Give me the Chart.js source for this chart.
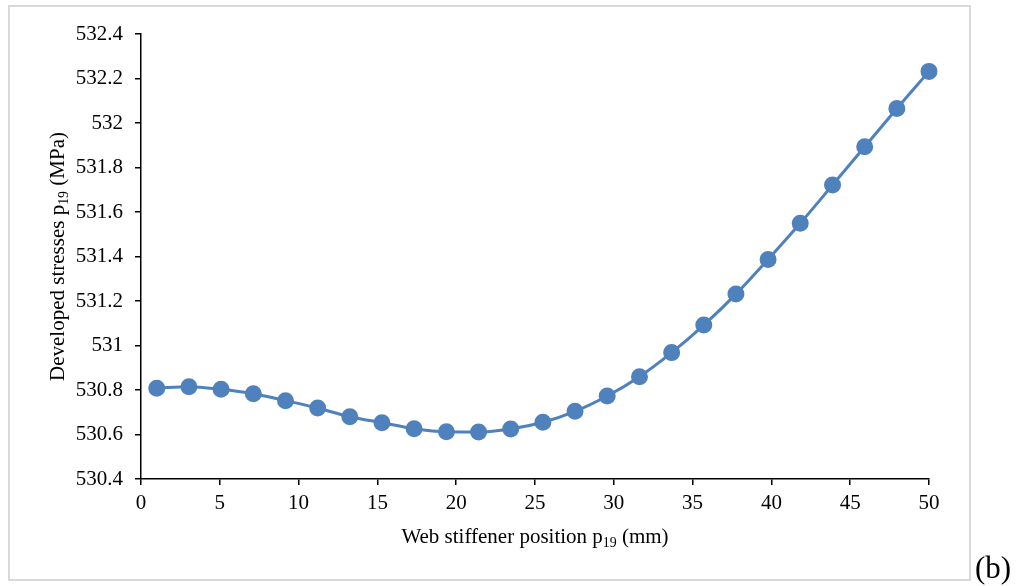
<!DOCTYPE html>
<html>
<head>
<meta charset="utf-8">
<script src="https://cdn.jsdelivr.net/npm/chart.js@4"></script>
<style>
  html, body { margin: 0; padding: 0; background: #fff; }
  #wrap { position: relative; width: 1018px; height: 586px; }
</style>
</head>
<body>
<div id="wrap"><canvas id="chart-stress" width="1018" height="586"></canvas></div>
<script>
// web stiffener position (mm) and developed stress (MPa)
var positions = [1, 3.04, 5.08, 7.13, 9.17, 11.21, 13.25, 15.29, 17.33, 19.38, 21.42, 23.46, 25.5,
    27.54, 29.58, 31.63, 33.67, 35.71, 37.75, 39.79, 41.83, 43.88, 45.92, 47.96, 50];
var stresses = [530.808, 530.815, 530.803, 530.783, 530.752, 530.719, 530.680, 530.653, 530.626,
    530.612, 530.611, 530.625, 530.655, 530.704, 530.773, 530.860, 530.968, 531.092, 531.231,
    531.387, 531.549, 531.721, 531.893, 532.065, 532.232];
var xTicks = { min: 0, max: 50, step: 5 };
var yTicks = { min: 530.4, max: 532.4, step: 0.2 };

var serif = '"Liberation Serif", "Times New Roman", serif';

var points = positions.map(function (x, i) { return { x: x, y: stresses[i] }; });

// text with a subscript part: [[text, isSub], ...]
function drawRich(ctx, parts, size) {
    var total = 0;
    parts.forEach(function (p) {
        ctx.font = (p[1] ? size * 0.66 : size) + 'px ' + serif;
        total += ctx.measureText(p[0]).width;
    });
    var x = -total / 2;
    parts.forEach(function (p) {
        ctx.font = (p[1] ? size * 0.66 : size) + 'px ' + serif;
        ctx.fillText(p[0], x, p[1] ? size * 0.2 : 0);
        x += ctx.measureText(p[0]).width;
    });
}

var decor = {
    id: 'decor',
    beforeDraw: function (chart) {
        var ctx = chart.ctx;
        ctx.save();
        ctx.fillStyle = '#fff';
        ctx.fillRect(0, 0, chart.width, chart.height);
        ctx.strokeStyle = '#d9d9d9';
        ctx.lineWidth = 2;
        ctx.strokeRect(9, 6, 961, 574);
        ctx.restore();
    },
    afterDraw: function (chart) {
        var ctx = chart.ctx;
        var area = chart.chartArea;
        ctx.save();
        ctx.fillStyle = '#000';
        ctx.textBaseline = 'alphabetic';
        ctx.textAlign = 'left';

        // x axis title
        ctx.save();
        ctx.translate((area.left + area.right) / 2, 543);
        drawRich(ctx, [['Web stiffener position p', false], ['19', true], [' (mm)', false]], 21);
        ctx.restore();

        // y axis title
        ctx.save();
        ctx.translate(64, (area.top + area.bottom) / 2);
        ctx.rotate(-Math.PI / 2);
        drawRich(ctx, [['Developed stresses p', false], ['19', true], [' (MPa)', false]], 21);
        ctx.restore();

        ctx.font = '31px ' + serif;
        ctx.fillText('(b)', 975, 578);
        ctx.restore();
    }
};

var ctx = document.getElementById('chart-stress').getContext('2d');
var stressChart = new Chart(ctx, {
    type: 'scatter',
    data: {
        datasets: [{
            data: points,
            showLine: true,
            clip: false,
            borderColor: '#4f81bd',
            backgroundColor: '#4f81bd',
            borderWidth: 3,
            pointRadius: 7,
            pointHoverRadius: 7,
            cubicInterpolationMode: 'monotone'
        }]
    },
    options: {
        responsive: false,
        maintainAspectRatio: false,
        animation: false,
        layout: { padding: { top: 34, right: 89, left: 0, bottom: 0 } },
        plugins: {
            legend: { display: false },
            tooltip: { enabled: false }
        },
        scales: {
            x: {
                type: 'linear',
                min: xTicks.min,
                max: xTicks.max,
                afterFit: function (scale) { scale.height = 107; },
                grid: { drawOnChartArea: false, drawTicks: true, tickLength: 6, color: '#000', lineWidth: 1.5 },
                border: { display: true, color: '#000', width: 1.5 },
                ticks: {
                    stepSize: xTicks.step,
                    color: '#000',
                    padding: 6,
                    maxRotation: 0,
                    font: { family: serif, size: 21 }
                }
            },
            y: {
                type: 'linear',
                min: yTicks.min,
                max: yTicks.max,
                afterFit: function (scale) { scale.width = 141; },
                grid: { drawOnChartArea: false, drawTicks: true, tickLength: 6, color: '#000', lineWidth: 1.5 },
                border: { display: true, color: '#000', width: 1.5 },
                ticks: {
                    stepSize: yTicks.step,
                    color: '#000',
                    padding: 12,
                    font: { family: serif, size: 21 },
                    callback: function (v) { return String(Number(v.toFixed(1))); }
                }
            }
        }
    },
    plugins: [decor]
});
</script>
</body>
</html>
